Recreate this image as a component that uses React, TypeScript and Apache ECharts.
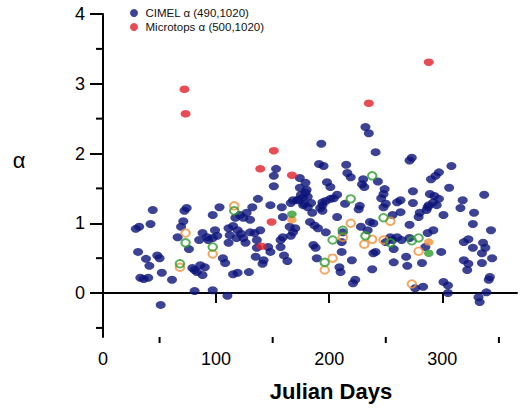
import React, { useEffect, useRef } from "react";
import * as echarts from "echarts";

const cimelDays = [
  29, 32, 42, 44, 31, 38, 41, 48, 50, 33, 36, 40, 52, 61, 51, 66,
  74, 72, 71, 69, 76, 88, 85, 92, 93, 99, 101, 97, 103, 97, 111, 81, 97, 110, 86, 90, 83, 88, 81, 79, 106, 108, 115, 119, 129,
  117, 121, 124, 127, 130, 111, 115, 119, 122, 124, 118, 112, 130, 134, 139, 136, 126, 132, 137, 148, 158, 135, 142, 141, 136, 146, 148, 157, 159, 166, 170, 165, 168, 157, 160, 163, 159, 151, 151, 153,
  168, 166, 174, 179, 174, 180, 175, 181, 172, 177, 181, 184, 185, 183, 187, 190, 197, 186, 188, 189, 192, 194, 194, 191, 195, 193,
  198, 201, 194, 197, 201, 204, 207, 207, 212, 211, 211, 209, 210, 215, 216, 219, 214, 220, 223, 221, 227, 226,
  230, 229, 231, 232, 235, 241, 228, 234, 236, 239, 239, 241, 238, 243, 249, 248, 246, 250, 248, 256, 263, 260, 263, 257, 250, 256, 260, 254, 264, 257,
  271, 268, 269, 271, 273, 271, 274, 274, 286, 280, 279, 287, 292, 285, 282, 276, 283, 290, 294, 297, 289, 293, 297, 292, 288, 295, 287,
  299, 301, 306, 308, 301, 305, 305, 316, 318, 328, 327, 337, 343, 319, 323, 336, 338, 335, 327, 344, 319, 323, 322, 335, 342, 339, 332, 333, 341,
  179, 177, 173, 178
];
const cimelAlpha = [
  0.92, 0.95, 0.99, 1.19, 0.59, 0.49, 0.39, 0.54, 0.5, 0.22, 0.2, 0.22, 0.29, 0.19, -0.17, 0.8,
  1.22, 1.18, 1.03, 0.95, 0.63, 0.86, 0.76, 0.8, 0.76, 0.9, 0.82, 0.79, 1.23, 1.12, 0.72, 0.03, 0.04, -0.04, 0.4, 0.37, 0.3, 0.26, 0.33, 0.36, 0.5, 0.43, 0.27, 0.29, 0.3,
  1.08, 1.12, 1.08, 1.15, 1.05, 0.93, 0.96, 0.9, 0.85, 0.79, 0.79, 0.83, 0.87, 0.86, 0.9, 0.76, 0.72, 1.23, 1.35, 1.26, 1.23, 0.52, 0.47, 0.42, 0.65, 0.66, 0.59, 0.66, 0.8, 0.82, 0.93, 0.95, 0.87, 0.76, 0.54, 0.46, 1.09, 1.53, 1.68, 1.78,
  1.33, 1.29, 1.65, 1.58, 1.51, 1.48, 1.41, 1.38, 1.33, 1.26, 1.23, 1.29, 1.15, 1.02, 0.97, 0.93, 0.87, 0.69, 0.65, 0.5, 1.22, 1.26, 1.18, 1.85, 1.82, 2.14,
  1.59, 1.52, 1.3, 1.32, 1.35, 1.36, 1.41, 1.09, 0.87, 0.73, 0.59, 0.37, 0.3, 1.84, 1.72, 1.66, 1.28, 0.47, 0.19, 0.14, 1.25, 1.2,
  1.63, 1.56, 1.52, 2.38, 2.29, 2.02, 0.95, 0.9, 1.02, 1.0, 0.57, 0.59, 0.34, 1.6, 1.49, 1.42, 1.36, 1.28, 1.23, 1.12, 1.16, 1.3, 1.33, 0.44, 0.73, 0.76, 0.8, 0.8, 0.76, 0.63,
  0.98, 0.52, 0.39, 0.79, 1.94, 1.9, 1.46, 1.29, 1.19, 1.15, 1.09, 0.86, 0.9, 0.66, 0.43, 0.07, 0.09, 1.63, 1.68, 1.73, 1.42, 1.39, 1.35, 1.3, 1.26, 1.26, 1.23,
  0.59, 1.12, 1.51, 1.82, 0.16, 0.11, 0.0, 1.22, 1.33, 1.15, 0.99, 1.41, 0.9, 0.73, 0.77, 0.72, 0.65, 0.57, 0.65, 0.5, 0.47, 0.42, 0.33, 0.43, 0.23, 0.01, -0.06, -0.13, 0.19,
  1.44, 1.37, 1.34, 1.28
];

const microDays = [72, 73, 151, 139, 167, 149, 140, 235, 288];
const microAlpha = [2.92, 2.57, 2.04, 1.78, 1.69, 1.02, 0.67, 2.72, 3.31];

const orangeDays = [73, 116, 97, 68, 219, 212, 231, 238, 248, 203, 196, 254, 279, 273];
const orangeAlpha = [0.86, 1.25, 0.56, 0.37, 1.0, 0.8, 0.7, 0.77, 0.76, 0.5, 0.33, 1.03, 0.6, 0.13];

const greenDays = [73, 116, 97, 68, 219, 238, 212, 203, 196, 248, 232, 254, 273, 279];
const greenAlpha = [0.72, 1.18, 0.66, 0.42, 1.35, 1.68, 0.9, 0.76, 0.44, 1.08, 0.82, 0.72, 0.75, 0.79];

const orangeFilledDays = [167, 288];
const orangeFilledAlpha = [1.05, 0.73];
const greenFilledDays = [167, 288];
const greenFilledAlpha = [1.13, 0.57];

const xMajor = [0, 100, 200, 300];
const xMinor = [50, 150, 250, 350];
const yMajor = [0, 1, 2, 3, 4];
const yMinor = [-0.5, 0.5, 1.5, 2.5, 3.5];

const cimelName = "CIMEL \u03b1 (490,1020)";
const microName = "Microtops \u03b1 (500,1020)";

const pairs = (xs: number[], ys: number[]) => xs.map((x, i) => [x, ys[i]]);

const BLUE = "#0d1479";
const RED = "#e2202b";
const ORANGE = "#f1923a";
const GREEN = "#2e9e2e";
const FONT = "'Liberation Sans', Arial, sans-serif";

export default function App() {
  const ref = useRef<HTMLDivElement>(null);
  useEffect(() => {
    if (!ref.current) return;
    const chart = echarts.init(ref.current, null, { renderer: "svg" });
    const X_MIN = 0, X_MAX = 366, Y_MIN = -0.63, Y_MAX = 4;
    const axisLineStyle = { color: "#000", width: 2 };
    const tickStyle = { stroke: "#000", lineWidth: 2 };
    chart.setOption({
      animation: false,
      backgroundColor: "#fff",
      grid: { left: 103, right: 7, top: 14, bottom: 71, containLabel: false },
      legend: {
        data: [cimelName, microName],
        orient: "vertical",
        left: 130,
        top: 7,
        padding: 0,
        itemWidth: 11,
        itemHeight: 8,
        itemGap: 2,
        icon: "circle",
        textStyle: { fontSize: 11.5, fontFamily: FONT, color: "#111", padding: [0, 0, 0, 1] },
      },
      xAxis: {
        type: "value", min: X_MIN, max: X_MAX, position: "bottom",
        axisLine: { lineStyle: axisLineStyle },
        axisTick: { show: true, customValues: xMajor, length: 10, lineStyle: axisLineStyle },
        axisLabel: { customValues: xMajor, fontSize: 18, fontFamily: FONT, color: "#000", margin: 13 },
        splitLine: { show: false },
      },
      yAxis: {
        type: "value", min: Y_MIN, max: Y_MAX, position: "left",
        axisLine: { show: true, lineStyle: axisLineStyle },
        axisTick: { show: true, customValues: yMajor, length: 13, lineStyle: axisLineStyle },
        axisLabel: { customValues: yMajor, fontSize: 18, fontFamily: FONT, color: "#000", margin: 18 },
        splitLine: { show: false },
      },
      graphic: [
        {
          type: "text", x: 331, y: 391,
          style: {
            text: "Julian Days", font: `bold 22px ${FONT}`, fill: "#000",
            align: "center", verticalAlign: "middle", textAlign: "center", textVerticalAlign: "middle",
          },
        },
        {
          type: "text", x: 19, y: 160,
          style: {
            text: "\u03b1", font: `22px ${FONT}`, fill: "#000",
            align: "center", verticalAlign: "middle", textAlign: "center", textVerticalAlign: "middle",
          },
        },
      ],
      series: [
        {
          name: "xMinorTicks", type: "custom", silent: true, clip: false,
          data: xMinor.map((v) => [v, Y_MIN]),
          encode: { x: 0, y: 1 },
          renderItem: (params: any, api: any) => {
            const p = api.coord([api.value(0), api.value(1)]);
            return { type: "line", shape: { x1: p[0], y1: p[1], x2: p[0], y2: p[1] + 6 }, style: tickStyle };
          },
        },
        {
          name: "yMinorTicks", type: "custom", silent: true, clip: false,
          data: yMinor.map((v) => [X_MIN, v]),
          encode: { x: 0, y: 1 },
          renderItem: (params: any, api: any) => {
            const p = api.coord([api.value(0), api.value(1)]);
            return { type: "line", shape: { x1: p[0] - 7, y1: p[1], x2: p[0], y2: p[1] }, style: tickStyle };
          },
        },
        {
          name: cimelName, type: "scatter", data: pairs(cimelDays, cimelAlpha),
          symbol: "circle", symbolSize: [10, 8], itemStyle: { color: BLUE },
        },
        {
          name: microName, type: "scatter", data: pairs(microDays, microAlpha),
          symbol: "circle", symbolSize: [10, 7.5], itemStyle: { color: RED },
        },
        {
          name: "orange", type: "scatter", data: pairs(orangeDays, orangeAlpha),
          symbol: "circle", symbolSize: [8.5, 7.5],
          itemStyle: { color: "rgba(0,0,0,0)", borderColor: ORANGE, borderWidth: 2 },
        },
        {
          name: "green", type: "scatter", data: pairs(greenDays, greenAlpha),
          symbol: "circle", symbolSize: [8.5, 7.5],
          itemStyle: { color: "rgba(0,0,0,0)", borderColor: GREEN, borderWidth: 2 },
        },
        {
          name: "orangeFilled", type: "scatter", data: pairs(orangeFilledDays, orangeFilledAlpha),
          symbol: "circle", symbolSize: [9.5, 7.5], itemStyle: { color: ORANGE },
        },
        {
          name: "greenFilled", type: "scatter", data: pairs(greenFilledDays, greenFilledAlpha),
          symbol: "circle", symbolSize: [9.5, 7.5], itemStyle: { color: GREEN },
        },
      ],
    });
    return () => chart.dispose();
  }, []);
  return <div ref={ref} style={{ width: 524, height: 408, position: "absolute", left: 0, top: 0 }} />;
}
